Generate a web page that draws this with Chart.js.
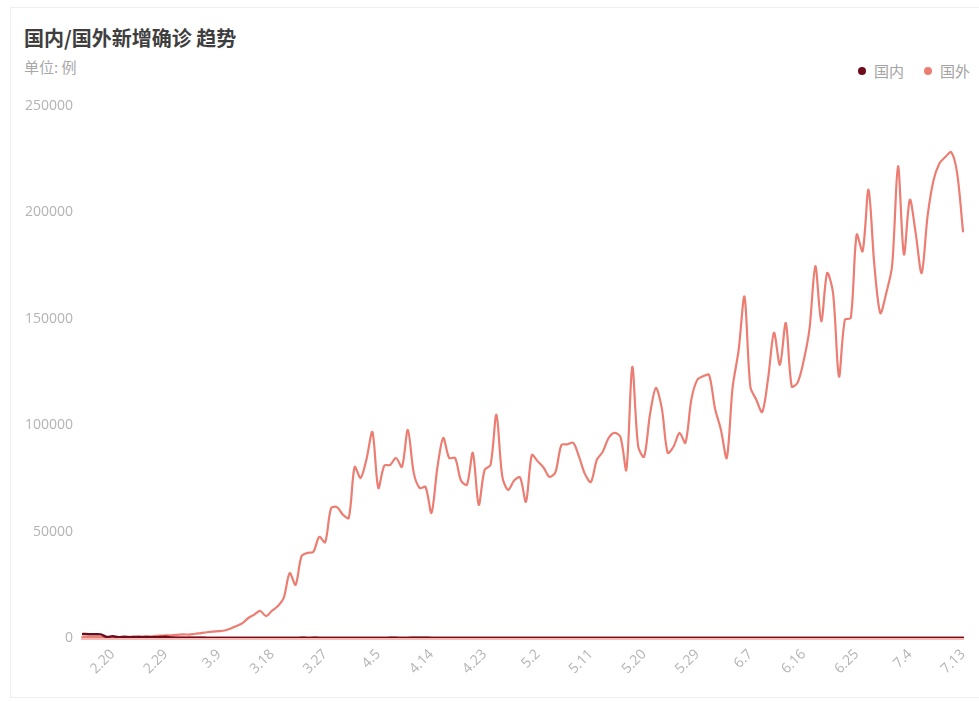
<!DOCTYPE html>
<html lang="zh-CN">
<head>
<meta charset="utf-8">
<title>国内/国外新增确诊 趋势</title>
<script src="https://cdn.jsdelivr.net/npm/chart.js@4/dist/chart.umd.min.js"></script>
<style>
  html, body { margin: 0; padding: 0; background: #ffffff; overflow: hidden; }
  body { width: 979px; height: 701px; position: relative; font-family: "Noto Sans CJK SC", "Open Sans", sans-serif; }
  .card { position: absolute; left: 10px; top: 7px; right: -2px; bottom: 3px; border: 1px solid #efefef; background: #fff; }
  .title { position: absolute; left: 24px; top: 26px; font-size: 20px; line-height: 24px; font-weight: bold; color: #3e3e3e; white-space: nowrap; }
  .unit { position: absolute; left: 24px; top: 57px; font-size: 15px; line-height: 20px; color: #a8a8a8; white-space: nowrap; }
  .legend { position: absolute; right: 9px; top: 61px; display: flex; align-items: center; font-size: 15px; line-height: 20px; color: #a3a3a3; }
  .legend span.item { display: flex; align-items: center; margin-left: 20px; }
  .legend i { display: inline-block; width: 8px; height: 8px; border-radius: 50%; margin-right: 8px; }
  .plot { position: absolute; left: 0; top: 0; width: 979px; height: 701px; }
</style>
</head>
<body>
<div class="card"></div>
<div class="title">国内/国外新增确诊 趋势</div>
<div class="unit">单位: 例</div>
<div class="legend" id="legend"></div>
<div class="plot"><canvas id="trend"></canvas></div>
<script>
// Daily categories, 2.15 – 7.13
const dates = [
  '2.15','2.16','2.17','2.18','2.19','2.20','2.21','2.22','2.23','2.24','2.25','2.26','2.27','2.28','2.29',
  '3.1','3.2','3.3','3.4','3.5','3.6','3.7','3.8','3.9','3.10','3.11','3.12','3.13','3.14','3.15','3.16',
  '3.17','3.18','3.19','3.20','3.21','3.22','3.23','3.24','3.25','3.26','3.27','3.28','3.29','3.30','3.31',
  '4.1','4.2','4.3','4.4','4.5','4.6','4.7','4.8','4.9','4.10','4.11','4.12','4.13','4.14','4.15',
  '4.16','4.17','4.18','4.19','4.20','4.21','4.22','4.23','4.24','4.25','4.26','4.27','4.28','4.29','4.30',
  '5.1','5.2','5.3','5.4','5.5','5.6','5.7','5.8','5.9','5.10','5.11','5.12','5.13','5.14','5.15','5.16',
  '5.17','5.18','5.19','5.20','5.21','5.22','5.23','5.24','5.25','5.26','5.27','5.28','5.29','5.30','5.31',
  '6.1','6.2','6.3','6.4','6.5','6.6','6.7','6.8','6.9','6.10','6.11','6.12','6.13','6.14','6.15',
  '6.16','6.17','6.18','6.19','6.20','6.21','6.22','6.23','6.24','6.25','6.26','6.27','6.28','6.29','6.30',
  '7.1','7.2','7.3','7.4','7.5','7.6','7.7','7.8','7.9','7.10','7.11','7.12','7.13'
];

// Dates that get an axis label
const tickLabels = ['2.20','2.29','3.9','3.18','3.27','4.5','4.14','4.23','5.2','5.11','5.20','5.29','6.7','6.16','6.25','7.4','7.13'];

// New confirmed cases per day – domestic
const domestic = [
  1900, 1800, 1800, 1700, 500, 800, 400, 600, 400, 500,
  400, 430, 330, 430, 570, 200, 125, 120, 140, 140,
  100, 45, 40, 20, 25, 15, 8, 11, 20, 16,
  21, 13, 34, 39, 41, 46, 39, 78, 47, 67,
  55, 54, 45, 31, 48, 36, 35, 31, 19, 30,
  39, 32, 62, 63, 42, 46, 99, 108, 89, 46,
  26, 27, 27, 16, 12, 11, 30, 10, 6, 12,
  11, 3, 6, 22, 4, 12, 2, 1, 3, 1,
  2, 2, 4, 1, 14, 17, 1, 7, 3, 4,
  8, 5, 7, 6, 3, 2, 4, 3, 2, 11,
  7, 1, 2, 2, 4, 2, 16, 5, 6, 6,
  6, 6, 5, 3, 3, 3, 11, 8, 11, 57,
  49, 40, 44, 28, 25, 32, 26, 25, 30, 22,
  19, 13, 17, 21, 12, 19, 3, 3, 5, 5,
  8, 8, 7, 7, 7, 2, 7, 8, 8, 3
];

// New confirmed cases per day – outside China
const abroad = [
  500, 450, 400, 420, 350, 300, 350, 450, 500, 550,
  650, 700, 900, 1100, 1200, 1300, 1500, 1700, 1600, 2000,
  2300, 2700, 3000, 3200, 3500, 4500, 5600, 7000, 9400, 11000,
  12700, 10300, 12800, 15000, 19000, 30500, 25000, 38500, 40000, 40500,
  47500, 45000, 61000, 61500, 58000, 56400, 80400, 75200, 84000, 96800,
  70500, 81000, 81300, 84600, 80400, 97800, 77600, 70500, 71000, 58800,
  80000, 94000, 84600, 84600, 74000, 72000, 87000, 62600, 79000, 81300,
  104900, 75700, 69600, 74000, 75500, 64000, 86000, 83000, 80000, 75700,
  78000, 90700, 91000, 91700, 85100, 77000, 73300, 83700, 87500, 94000,
  96400, 94500, 79000, 127400, 90000, 85100, 105000, 117500, 108000, 87000,
  90000, 96400, 91700, 112000, 121300, 123000, 123600, 108000, 98000, 84600,
  118000, 135000, 160400, 118000, 112000, 106200, 122000, 143400, 128400, 148000,
  118200, 120000, 130000, 145000, 174700, 148800, 171500, 162100, 122900, 149600,
  150400, 189600, 181700, 210700, 175000, 152700, 162000, 175000, 221700, 180200,
  206000, 190000, 171500, 198200, 215000, 223000, 226000, 228300, 218600, 191100
];

const seriesNames = ['国内', '国外'];
const seriesColors = ['#6e0c1c', '#ec7d72'];

const tickFont = { family: "'Open Sans', 'Noto Sans CJK SC', sans-serif", size: 14 };
const tickColor = '#b3b3b3';

const chart = new Chart(document.getElementById('trend'), {
  type: 'line',
  data: {
    labels: dates,
    datasets: [
      { label: seriesNames[0], data: domestic, borderColor: seriesColors[0], backgroundColor: seriesColors[0], borderWidth: 2.5 },
      { label: seriesNames[1], data: abroad, borderColor: seriesColors[1], backgroundColor: seriesColors[1], borderWidth: 2.2 }
    ]
  },
  options: {
    responsive: true,
    maintainAspectRatio: false,
    animation: false,
    devicePixelRatio: 1,
    layout: { padding: { top: 106, right: 16, bottom: 0, left: 0 } },
    elements: {
      point: { radius: 0, hoverRadius: 0 },
      line: { tension: 0.3, borderCapStyle: 'round', borderJoinStyle: 'round' }
    },
    plugins: {
      legend: { display: false },
      tooltip: { enabled: false }
    },
    scales: {
      x: {
        type: 'category',
        offset: false,
        grid: { display: false, drawTicks: false, tickLength: 0 },
        border: { display: true, color: '#f6bdb7', width: 4 },
        ticks: {
          autoSkip: false,
          minRotation: 45,
          maxRotation: 45,
          padding: 8,
          color: tickColor,
          font: tickFont,
          callback(value) {
            const label = this.getLabelForValue(value);
            return tickLabels.includes(label) ? label : null;
          }
        },
        afterFit(scale) {
          scale.height = 63;
          scale.paddingLeft = 0;
          scale.paddingRight = 0;
        }
      },
      y: {
        min: 0,
        max: 250000,
        grid: { display: false, drawTicks: false, tickLength: 0 },
        border: { display: false },
        ticks: {
          stepSize: 50000,
          padding: 10,
          color: tickColor,
          font: tickFont,
          callback: value => String(value)
        },
        afterFit(scale) { scale.width = 83; }
      }
    }
  }
});

// Legend built from the chart's own datasets
const legendBox = document.getElementById('legend');
chart.data.datasets.forEach(ds => {
  const item = document.createElement('span');
  item.className = 'item';
  const dot = document.createElement('i');
  dot.style.background = ds.borderColor;
  item.appendChild(dot);
  item.appendChild(document.createTextNode(ds.label));
  legendBox.appendChild(item);
});
</script>
</body>
</html>
